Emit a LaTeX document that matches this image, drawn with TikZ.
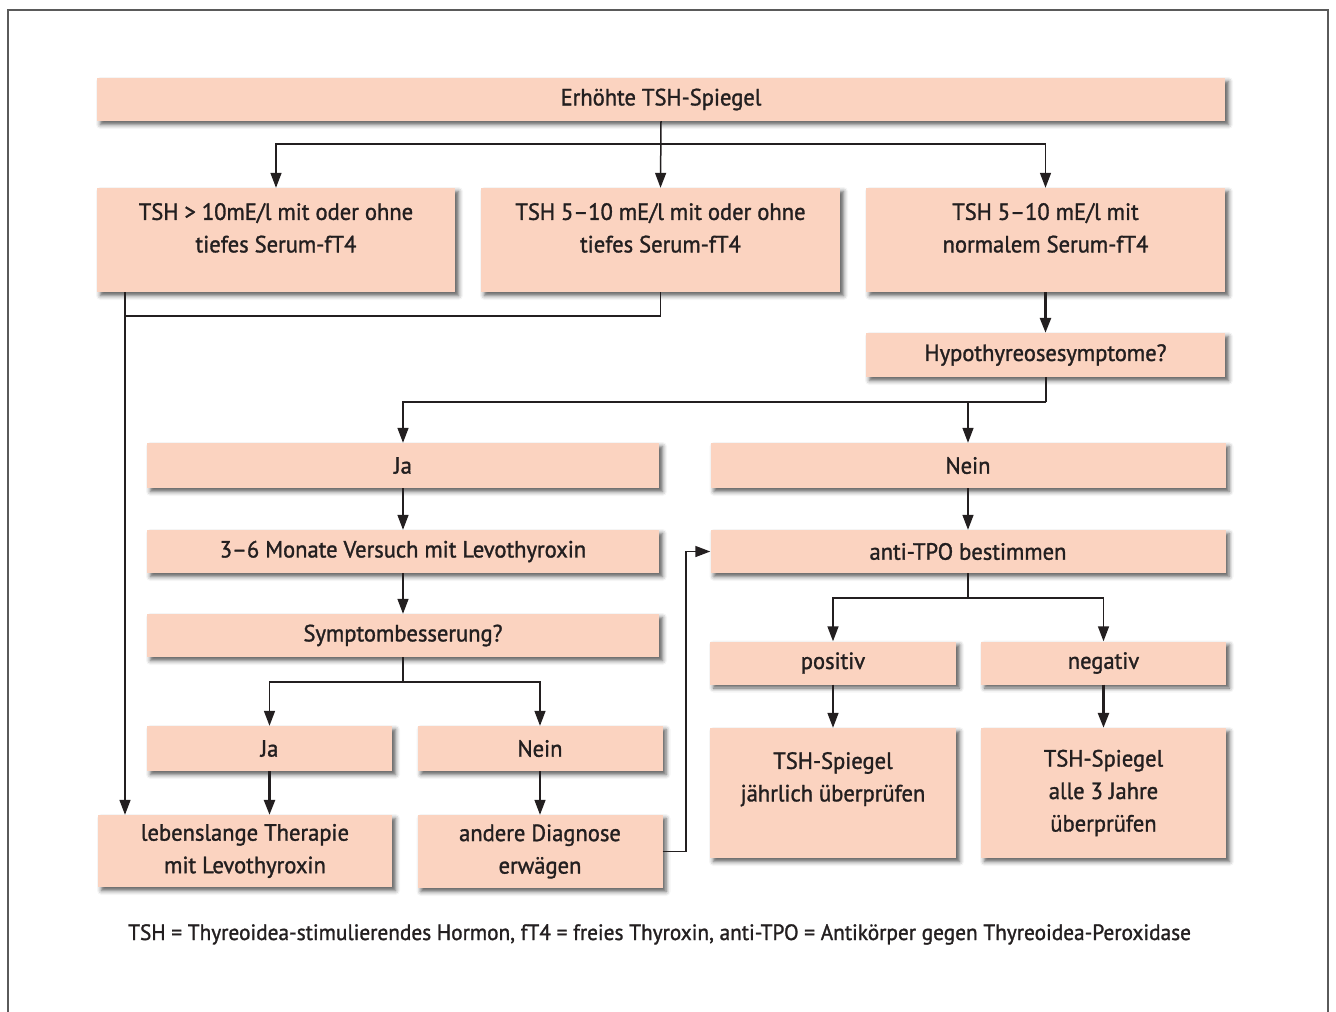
\documentclass[tikz,border=0pt]{standalone}
\usepackage{fontspec}
\setmainfont[FakeStretch=0.96, FakeBold=1.3]{PT Sans}
\usetikzlibrary{arrows.meta, shadows.blur}
\definecolor{peach}{RGB}{251, 211, 192}
\definecolor{ink}{RGB}{35, 31, 32}
\definecolor{frame}{RGB}{90, 90, 90}

\tikzset{
  box/.style={fill=peach, text=ink, align=center, inner sep=0pt,
    font=\fontsize{23.5}{32.5}\selectfont,
    blur shadow={shadow xshift=3.5pt, shadow yshift=-3.5pt, shadow blur radius=4.5pt, shadow opacity=65}},
  link/.style={draw=ink, line width=1.5pt},
  arrow/.style={link, -{Triangle[length=15pt, width=11pt]}},
  boldarrow/.style={arrow, line width=2.6pt}
}

\begin{document}
\begin{tikzpicture}[x=1pt, y=-1pt]

\useasboundingbox (0,0) rectangle (1336,1012);

% Frame
\draw[frame, line width=1.5pt] (8,1012) -- (8,10) -- (1328,10) -- (1328,1012);

% Top row
\node[box, minimum width=1128pt, minimum height=43pt] (top) at (661,99.5) {Erhöhte TSH-Spiegel};

% TSH ranges
\node[box, minimum width=358pt, minimum height=104pt] (tshA) at (276,240) {TSH > 10mE/l mit oder ohne\\tiefes Serum-fT4\\[-8pt]\mbox{}};
\node[box, minimum width=359pt, minimum height=104pt] (tshB) at (660.5,240) {TSH 5–10 mE/l mit oder ohne\\tiefes Serum-fT4\\[-8pt]\mbox{}};
\node[box, minimum width=359pt, minimum height=104pt] (tshC) at (1045.5,240) {TSH 5–10 mE/l mit\\normalem Serum-fT4\\[-8pt]\mbox{}};

% Right branch: symptoms
\node[box, minimum width=359pt, minimum height=44pt] (hypo) at (1045.5,355) {Hypothyreosesymptome?};

% Left column
\node[box, minimum width=512pt, minimum height=45pt] (ja) at (403,465.5) {Ja};
\node[box, minimum width=512pt, minimum height=43pt] (trial) at (403,551.5) {3–6 Monate Versuch mit Levothyroxin};
\node[box, minimum width=512pt, minimum height=43pt] (better) at (403,635.5) {Symptombesserung?};
\node[box, minimum width=245pt, minimum height=45pt] (jatwo) at (269.5,748.5) {Ja};
\node[box, minimum width=245pt, minimum height=45pt] (neintwo) at (540,748.5) {Nein};
\node[box, minimum width=294pt, minimum height=72pt] (therapy) at (245,851) {lebenslange Therapie\\mit Levothyroxin};
\node[box, minimum width=245pt, minimum height=73pt] (other) at (540,851.5) {andere Diagnose\\erwägen};

% Right column
\node[box, minimum width=515pt, minimum height=45pt] (nein) at (968,465.5) {Nein};
\node[box, minimum width=515pt, minimum height=43pt] (tpo) at (968,551.5) {anti-TPO bestimmen};
\node[box, minimum width=246pt, minimum height=43pt] (pos) at (833,663) {positiv};
\node[box, minimum width=245pt, minimum height=43pt] (neg) at (1103.5,663) {negativ};
\node[box, minimum width=246pt, minimum height=130pt] (yearly) at (833,793) {TSH-Spiegel\\jährlich überprüfen\\\mbox{}};
\node[box, minimum width=245pt, minimum height=130pt] (threey) at (1103.5,793) {TSH-Spiegel\\alle 3 Jahre\\überprüfen};

% Footnote
\node[text=ink, font=\fontsize{22.2}{26}\selectfont, anchor=base west, inner sep=0pt] (note) at (128,940)
  {TSH = Thyreoidea-stimulierendes Hormon, fT4 = freies Thyroxin, anti-TPO = Antikörper gegen Thyreoidea-Peroxidase};

% Branch points
\coordinate (forkA) at (661,144);
\coordinate (rail) at (125,316);
\coordinate (forkB) at (1046,402);
\coordinate (forkC) at (403,682);
\coordinate (loop) at (686,700);
\coordinate (forkD) at (968,598);

% Connectors from the top
\draw[arrow] (top.south) -- (tshB.north);
\draw[arrow] (forkA) -| (tshA.north);
\draw[arrow] (forkA) -| (tshC.north);

% Straight to lifelong therapy
\draw[arrow] (tshA.south -| rail) -- (therapy.north -| rail);
\draw[link] (tshB.south) |- (rail);

% Symptoms
\draw[boldarrow] (tshC.south) -- (hypo.north);
\draw[link] (hypo.south -| forkB) -- (forkB);
\draw[arrow] (forkB) -| (ja.north);
\draw[arrow] (forkB) -| (nein.north);

% Trial of levothyroxine
\draw[arrow] (ja.south) -- (trial.north);
\draw[arrow] (trial.south) -- (better.north);
\draw[link] (better.south) -- (forkC);
\draw[arrow] (forkC) -| (jatwo.north);
\draw[arrow] (forkC) -| (neintwo.north);
\draw[boldarrow] (jatwo.south) -- (therapy.north -| jatwo.south);
\draw[arrow] (neintwo.south) -- (other.north);
\draw[arrow] (other.east) -| (loop) |- (tpo.west);

% Antibodies
\draw[arrow] (nein.south) -- (tpo.north);
\draw[link] (tpo.south) -- (forkD);
\draw[arrow] (forkD) -| (pos.north);
\draw[arrow] (forkD) -| (neg.north);
\draw[arrow] (pos.south) -- (yearly.north);
\draw[boldarrow] (neg.south) -- (threey.north);

\end{tikzpicture}
\end{document}
